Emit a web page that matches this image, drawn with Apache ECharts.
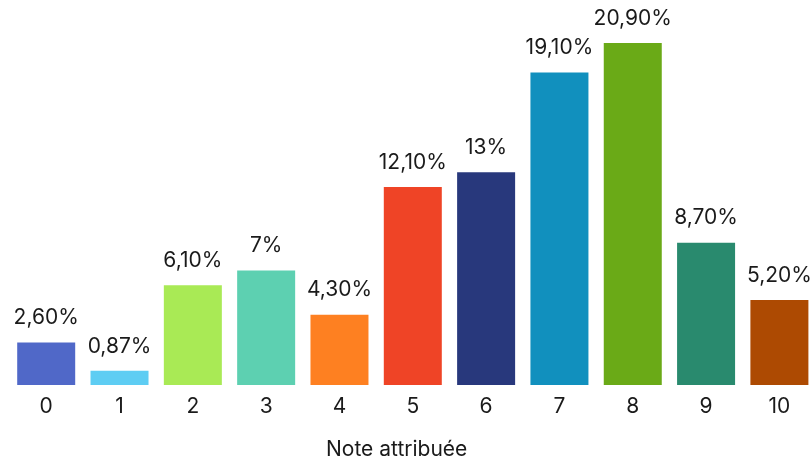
<!DOCTYPE html>
<html>
<head>
<meta charset="utf-8">
<script src="https://cdn.jsdelivr.net/npm/echarts@6/dist/echarts.min.js"></script>
<style>
  html, body { margin: 0; padding: 0; background: #ffffff; }
  #chart { width: 812px; height: 459px; }
</style>
</head>
<body>
<div id="chart"></div>
<script>
// Notes 0 à 10 et part des répondants (%)
const categories = ['0', '1', '2', '3', '4', '5', '6', '7', '8', '9', '10'];
const values = [2.6, 0.87, 6.1, 7, 4.3, 12.1, 13, 19.1, 20.9, 8.7, 5.2];
const barColors = ['#5068C8', '#5ECDF3', '#A9EA55', '#5DD0B1', '#FE8021', '#EF4426',
                   '#28387C', '#1190BE', '#6AAA17', '#298A6E', '#AD4A02'];
const axisTitle = 'Note attribuée';

const FONT = 'Inter, "Noto Sans", sans-serif';

// French-style percentage: comma decimal, integers without decimals
function formatPct(v) {
  if (Number.isInteger(v)) return v + '%';
  return v.toFixed(2).replace('.', ',') + '%';
}

const chart = echarts.init(document.getElementById('chart'), null, { renderer: 'canvas' });
chart.setOption({
  animation: false,
  backgroundColor: '#ffffff',
  title: {
    text: axisTitle,
    left: 321,
    top: 434,
    textStyle: { fontFamily: FONT, fontSize: 21, fontWeight: 'normal', color: '#1a1a1a' }
  },
  // category points sit on the grid edges; bars are centred on them
  grid: { left: 46.2, right: 32.6, top: 43, bottom: 74, containLabel: false },
  xAxis: {
    type: 'category',
    data: categories,
    boundaryGap: false,
    axisLine: { show: false },
    axisTick: { show: false },
    splitLine: { show: false },
    axisLabel: { fontFamily: FONT, fontSize: 21, color: '#1a1a1a', margin: 11 }
  },
  yAxis: {
    type: 'value',
    min: 0,
    max: 20.9,
    show: false,
    splitLine: { show: false }
  },
  series: [{
    type: 'bar',
    barWidth: 58,
    clip: false,
    data: values.map((v, i) => ({ value: v, itemStyle: { color: barColors[i] } })),
    label: {
      show: true,
      position: 'top',
      distance: 14,
      fontFamily: FONT,
      fontSize: 21,
      color: '#1a1a1a',
      formatter: p => formatPct(p.value)
    }
  }]
});
</script>
</body>
</html>
